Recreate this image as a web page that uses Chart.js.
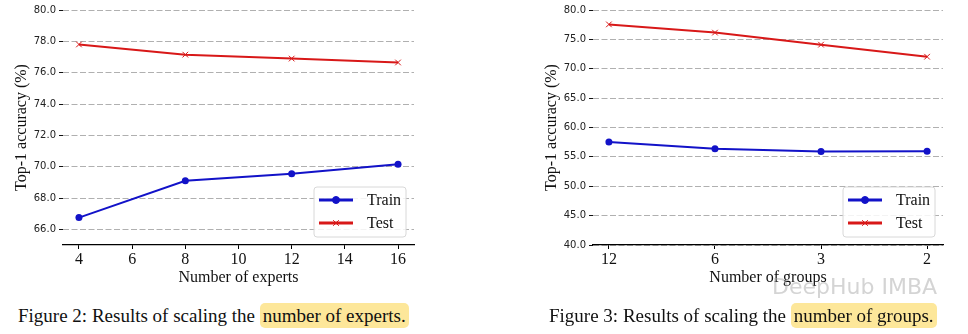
<!DOCTYPE html>
<html>
<head>
<meta charset="utf-8">
<script src="https://cdn.jsdelivr.net/npm/chart.js@4.4.1/dist/chart.umd.min.js"></script>
<style>
  body { margin: 0; background: #fff; width: 968px; height: 334px; overflow: hidden; position: relative; }
  .box { position: absolute; top: 0; height: 300px; }
  .cap { position: absolute; top: 305px; font-family: "Liberation Serif", "Times New Roman", serif; font-size: 19px; color: #111; white-space: nowrap; }
  .hl { font-family: "Liberation Serif", "Times New Roman", serif; background: #fde79a; border-radius: 5px; padding: 2px 3px; }
  .wm { position: absolute; left: 772px; top: 274px; font-family: "DejaVu Sans", sans-serif; font-size: 22px; color: rgba(170,170,170,0.5); white-space: nowrap; }
</style>
</head>
<body>
<div class="box" style="left:0;width:490px"><canvas id="expertsChart"></canvas></div>
<div class="box" style="left:490px;width:478px"><canvas id="groupsChart"></canvas></div>
<div class="cap" style="left:18px">Figure 2: Results of scaling the <span class="hl">number of experts.</span></div>
<div class="cap" style="left:549px">Figure 3: Results of scaling the <span class="hl">number of groups.</span></div>
<div class="wm">DeepHub IMBA</div>
<script>
// Figure 2 data
const experts = [4, 8, 12, 16];
const expertsTrain = [66.75, 69.1, 69.55, 70.15];
const expertsTest = [77.8, 77.15, 76.9, 76.65];
const expertsXTicks = [4, 6, 8, 10, 12, 14, 16];
const expertsYTicks = [66, 68, 70, 72, 74, 76, 78, 80];

// Figure 3 data
const groups = ['12', '6', '3', '2'];
const groupsTrain = [57.55, 56.4, 55.9, 55.95];
const groupsTest = [77.55, 76.15, 74.1, 72.05];
const groupsYTicks = [40, 45, 50, 55, 60, 65, 70, 75, 80];

const BLUE = '#1212c8';
const RED = '#d81818';
const serif = '"Liberation Serif", "Times New Roman", serif';

// legend drawn inside the plot area, bottom right
const boxLegend = {
    id: 'boxLegend',
    afterDraw(chart) {
        const ctx = chart.ctx;
        const a = chart.chartArea;
        const w = 92, h = 50;
        const x = a.right - 8 - w, y = a.bottom - 8 - h;
        ctx.save();
        ctx.beginPath();
        ctx.roundRect(x, y, w, h, 3);
        ctx.fillStyle = 'rgba(255,255,255,0.85)';
        ctx.fill();
        ctx.strokeStyle = '#d8d8d8';
        ctx.lineWidth = 1;
        ctx.stroke();
        chart.data.datasets.forEach((ds, i) => {
            const ry = y + 13 + i * 23;
            ctx.beginPath();
            ctx.moveTo(x + 5, ry);
            ctx.lineTo(x + 39, ry);
            ctx.strokeStyle = ds.borderColor;
            ctx.lineWidth = 3;
            ctx.stroke();
            ctx.fillStyle = ds.borderColor;
            ctx.lineWidth = 1;
            Chart.helpers.drawPoint(ctx, {
                pointStyle: ds.pointStyle, radius: ds.pointRadius, borderWidth: 1
            }, x + 22, ry);
            ctx.fillStyle = '#111';
            ctx.font = '16px ' + serif;
            ctx.textBaseline = 'middle';
            ctx.fillText(ds.label, x + 53, ry + 1);
        });
        ctx.restore();
    }
};

function makeChart(id, opts) {
    const ctx = document.getElementById(id).getContext('2d');
    return new Chart(ctx, {
        type: 'line',
        data: {
            datasets: [{
                label: 'Train',
                data: opts.train,
                borderColor: BLUE,
                backgroundColor: BLUE,
                borderWidth: 2,
                pointStyle: 'circle',
                pointRadius: 3.5,
                pointBorderWidth: 0,
                tension: 0
            }, {
                label: 'Test',
                data: opts.test,
                borderColor: RED,
                backgroundColor: RED,
                borderWidth: 2,
                pointStyle: 'crossRot',
                pointRadius: 4,
                pointBorderWidth: 1,
                tension: 0
            }]
        },
        options: {
            responsive: false,
            animation: false,
            devicePixelRatio: 1,
            layout: { padding: { top: 10, right: opts.padRight, left: 0, bottom: 0 } },
            plugins: { legend: { display: false }, tooltip: { enabled: false } },
            scales: {
                x: {
                    type: 'linear',
                    min: opts.xMin,
                    max: opts.xMax,
                    afterFit(s) { s.height = 55; },
                    afterBuildTicks(s) { s.ticks = opts.xTicks.map(v => ({ value: v })); },
                    border: { display: true, color: '#000', width: 1.2 },
                    grid: { display: true, drawOnChartArea: false, drawTicks: true, tickLength: 4, tickColor: '#000' },
                    ticks: {
                        color: '#111', padding: 1, maxRotation: 0, autoSkip: false,
                        font: { family: serif, size: 16 },
                        callback: opts.xLabel
                    },
                    title: {
                        display: true, text: opts.xTitle, color: '#111',
                        font: { family: serif, size: 16 }, padding: { top: 0, bottom: 13 }
                    }
                },
                y: {
                    min: opts.yMin,
                    max: opts.yMax,
                    afterFit(s) { s.width = opts.yWidth; },
                    afterBuildTicks(s) { s.ticks = opts.yTicks.map(v => ({ value: v })); },
                    border: { display: false, dash: [6, 2.5] },
                    grid: { color: '#b0b0b0', lineWidth: 1, tickLength: 4, tickColor: '#111', tickBorderDash: [] },
                    ticks: {
                        color: '#222', padding: 3, autoSkip: false,
                        font: { family: '"DejaVu Sans", sans-serif', size: 10 },
                        callback: v => v.toFixed(1)
                    },
                    title: {
                        display: true, text: 'Top-1 accuracy (%)', color: '#111',
                        font: { family: serif, size: 16 }, padding: { top: opts.yTitlePad, bottom: 0 }
                    }
                }
            }
        },
        plugins: [boxLegend]
    });
}

function setSize(id, w, h) {
    const c = document.getElementById(id);
    c.width = w; c.height = h;
    c.style.width = w + 'px'; c.style.height = h + 'px';
}
setSize('expertsChart', 490, 300);
setSize('groupsChart', 478, 300);

makeChart('expertsChart', {
    train: experts.map((x, i) => ({ x: x, y: expertsTrain[i] })),
    test: experts.map((x, i) => ({ x: x, y: expertsTest[i] })),
    xMin: 3.4, xMax: 16.6, xTicks: expertsXTicks, xLabel: v => String(v),
    xTitle: 'Number of experts',
    yMin: 65, yMax: 80, yTicks: expertsYTicks,
    yWidth: 63, yTitlePad: 12, padRight: 76
});

makeChart('groupsChart', {
    train: groups.map((g, i) => ({ x: i, y: groupsTrain[i] })),
    test: groups.map((g, i) => ({ x: i, y: groupsTest[i] })),
    xMin: -0.15, xMax: 3.15, xTicks: [0, 1, 2, 3], xLabel: v => groups[v],
    xTitle: 'Number of groups',
    yMin: 40, yMax: 80, yTicks: groupsYTicks,
    yWidth: 103, yTitlePad: 52, padRight: 25
});
</script>
</body>
</html>
